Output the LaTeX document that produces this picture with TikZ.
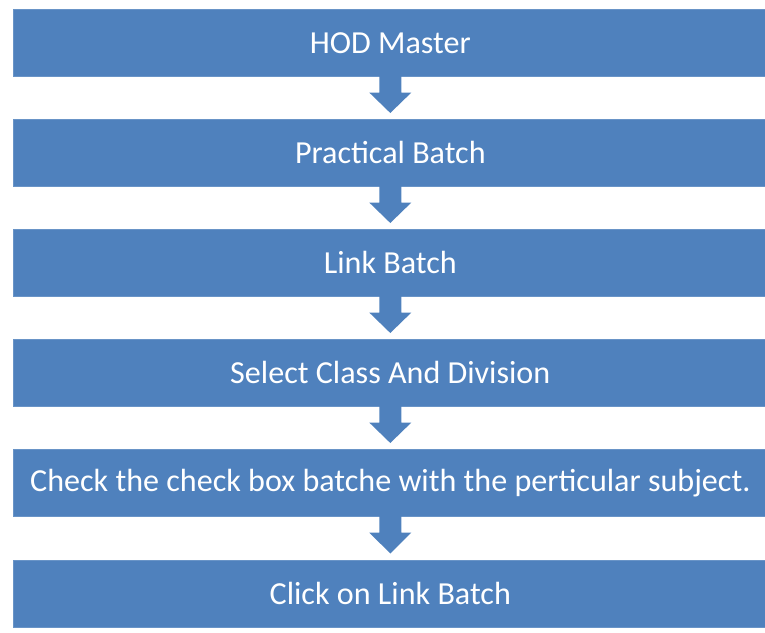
\documentclass[tikz,border=0pt]{standalone}
\usepackage{fontspec}
\setmainfont{Carlito}
\usetikzlibrary{calc}
\definecolor{boxblue}{HTML}{4F81BD}
\tikzset{
  stepbox/.style={fill=boxblue, draw=boxblue!85!white, line width=0.6pt, minimum width=755pt, minimum height=67pt, inner sep=0pt, text=white, font=\fontsize{32.1}{36}\selectfont, anchor=north west},
  flowarrow/.style={fill=boxblue, draw=none}
}
\newcommand{\blockarrow}[2]{%
  \fill[flowarrow] ($(#1.south)+(-11,-1)$) -- ($(#1.south)+(-11,16)$) -- ($(#1.south)+(-21,16)$) -- ($(#2.north)+(0,-6)$) -- ($(#1.south)+(21,16)$) -- ($(#1.south)+(11,16)$) -- ($(#1.south)+(11,-1)$) -- cycle;}
\begin{document}
\begin{tikzpicture}[x=1pt,y=-1pt]
\useasboundingbox (0,0) rectangle (765,632);
\node[stepbox] (b1) at (12.5,9) {HOD Master};
\node[stepbox] (b2) at (12.5,119) {Practical Batch};
\node[stepbox] (b3) at (12.5,229) {Link Batch};
\node[stepbox] (b4) at (12.5,339) {Select Class And Division};
\node[stepbox] (b5) at (12.5,449) {Check the check box batche with the perticular subject.};
\node[stepbox] (b6) at (12.5,559.5) {Click on Link Batch};
\blockarrow{b1}{b2}
\blockarrow{b2}{b3}
\blockarrow{b3}{b4}
\blockarrow{b4}{b5}
\blockarrow{b5}{b6}
\end{tikzpicture}
\end{document}
